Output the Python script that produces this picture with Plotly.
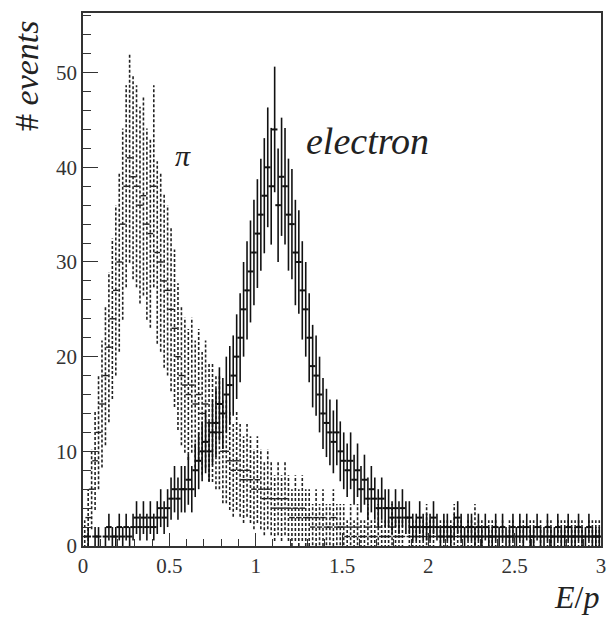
import numpy as np
import plotly.graph_objects as go

# Histogram binning: 150 bins of width 0.02 on E/p in [0, 3]
BIN_WIDTH = 0.02
N_BINS = 150
bin_centers = [round(BIN_WIDTH * (i + 0.5), 4) for i in range(N_BINS)]

electron_counts = [
    0, 1, 0, 1, 1, 0, 1, 2, 1, 1,
    2, 1, 2, 1, 2, 3, 2, 3, 2, 3,
    2, 3, 4, 3, 4, 5, 6, 5, 6, 6,
    7, 6, 8, 9, 10, 11, 10, 12, 13, 15,
    14, 16, 17, 18, 20, 22, 25, 27, 29, 31,
    33, 35, 37, 40, 38, 44, 36, 39, 38, 35,
    34, 31, 30, 27, 25, 22, 19, 18, 16, 14,
    13, 12, 11, 12, 10, 9, 8, 9, 7, 8,
    6, 7, 5, 6, 5, 4, 5, 4, 4, 3,
    4, 3, 4, 3, 3, 2, 2, 3, 2, 2,
    2, 3, 2, 1, 2, 2, 1, 2, 3, 2,
    1, 2, 2, 1, 2, 1, 2, 1, 1, 2,
    1, 2, 1, 1, 2, 1, 2, 1, 2, 1,
    1, 2, 1, 1, 2, 1, 1, 2, 1, 1,
    2, 1, 1, 2, 1, 1, 2, 1, 1, 1,
]

pion_counts = [
    1, 3, 6, 9, 12, 15, 18, 21, 24, 27,
    30, 34, 38, 41, 39, 38, 36, 37, 34, 33,
    38, 31, 30, 28, 27, 25, 23, 20, 18, 17,
    16, 17, 15, 16, 14, 15, 13, 13, 12, 12,
    10, 10, 9, 8, 9, 8, 7, 8, 7, 6,
    7, 6, 5, 6, 5, 4, 5, 4, 5, 4,
    3, 4, 3, 4, 3, 3, 2, 3, 2, 3,
    2, 2, 3, 2, 2,
    2, 1, 2, 1, 2, 1, 1, 2, 1, 1,
    2, 1, 1, 1, 2, 1, 1, 1, 0, 1,
    1, 1, 1, 1, 2, 1, 1, 0, 1, 1,
    1, 1, 2, 1, 1, 0, 1, 1, 2, 1,
    1, 0, 1, 1, 1, 0, 1, 0, 1, 1,
    0, 1, 1, 0, 1, 1, 0, 1, 0, 1,
    1, 0, 1, 1, 1, 1, 1, 1, 1, 1,
    0, 1, 1, 1, 1,
]

PION_WEIGHT = 3.0  # pion sample weight (errors = sqrt(w*N))

x_ticks = [0, 0.5, 1, 1.5, 2, 2.5, 3]
x_tick_labels = ["0", "0.5", "1", "1.5", "2", "2.5", "3"]
y_ticks = [0, 10, 20, 30, 40, 50]
y_tick_labels = ["0", "10", "20", "30", "40", "50"]

ex = np.array(bin_centers)
ev = np.array(electron_counts, dtype=float)
pv = np.array(pion_counts, dtype=float)
e_err = np.sqrt(ev)
p_err = np.sqrt(PION_WEIGHT * pv)

fig = go.Figure()

# pion: dashed error bars + horizontal bin marks
px_seg, py_seg = [], []
for c, v, e in zip(ex, pv, p_err):
    if v > 0:
        px_seg += [c, c, None]
        py_seg += [v - e, v + e, None]
fig.add_trace(go.Scatter(
    x=px_seg, y=py_seg, mode="lines",
    line=dict(color="#222", width=1.6, dash="3px,2px"),
    hoverinfo="skip", showlegend=False))
mask = pv > 0
fig.add_trace(go.Scatter(
    x=ex[mask], y=pv[mask], mode="markers",
    marker=dict(symbol="line-ew", size=4, line=dict(color="#222", width=1.4)),
    showlegend=False))

# electron: solid error bars + horizontal bin marks
emask = ev > 0
fig.add_trace(go.Scatter(
    x=ex[emask], y=ev[emask], mode="markers",
    marker=dict(symbol="line-ew", size=4, line=dict(color="#111", width=2)),
    error_y=dict(type="data", array=e_err[emask], width=0, thickness=1.6, color="#111"),
    showlegend=False))

serif = "Liberation Serif"

fig.update_layout(
    width=611, height=620,
    margin=dict(l=83, r=5, t=13, b=74),
    paper_bgcolor="white", plot_bgcolor="white",
    font=dict(family=serif, size=21, color="#222"),
    xaxis=dict(
        range=[0, 3], tickmode="array", tickvals=x_ticks, ticktext=x_tick_labels,
        ticks="inside", ticklen=13, tickwidth=1.2, tickcolor="#333",
        showline=True, linecolor="#333", linewidth=1.6, mirror=True,
        showgrid=False, zeroline=False,
        minor=dict(dtick=0.1, ticks="inside", ticklen=7, tickwidth=1.1, tickcolor="#333", showgrid=False),
        tickfont=dict(family=serif, size=21, color="#333"),
    ),
    yaxis=dict(
        range=[0, 56.3], tickmode="array", tickvals=y_ticks, ticktext=y_tick_labels,
        ticks="inside", ticklen=15, tickwidth=1.2, tickcolor="#333",
        showline=True, linecolor="#333", linewidth=1.6, mirror=True,
        showgrid=False, zeroline=False,
        minor=dict(dtick=2, ticks="inside", ticklen=8, tickwidth=1.1, tickcolor="#333", showgrid=False),
        tickfont=dict(family=serif, size=21, color="#333"),
    ),
)

fig.add_annotation(text="# <i>events</i>", xref="paper", xanchor="center", yanchor="middle",
                   x=-0.108, yref="paper", y=0.882, textangle=-90, showarrow=False,
                   font=dict(family=serif, size=34, color="#222"))
fig.add_annotation(text="<i>E</i>/<i>p</i>", xref="paper", yref="paper",
                   x=1.0, y=-0.095, showarrow=False, xanchor="right", yanchor="middle",
                   font=dict(family=serif, size=32, color="#222"))
fig.add_annotation(text="<i>π</i>", x=0.58, y=41.2, showarrow=False,
                   font=dict(family=serif, size=30, color="#222"))
fig.add_annotation(text="<i>electron</i>", x=1.65, y=42.8, showarrow=False,
                   font=dict(family=serif, size=38, color="#222"))

fig.write_html("out.html")
